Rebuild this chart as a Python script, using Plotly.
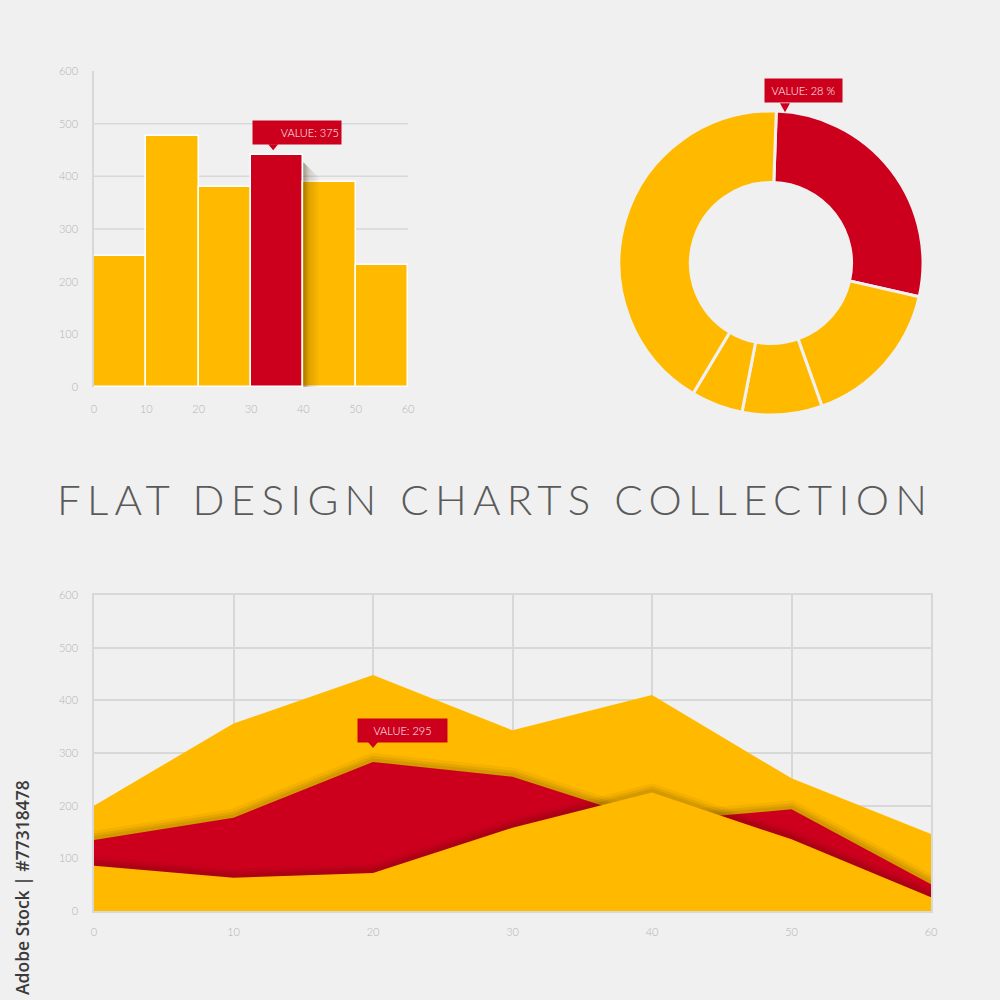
import plotly.graph_objects as go

# ---------------- data ----------------
# bar chart (histogram-like bins of width 10)
bar_left_edges = [0, 10, 20, 30, 40, 50]
bar_values = [248, 477, 379, 440, 390, 231]
bar_highlight_index = 3
bar_label = "VALUE: 375"

# donut chart (clockwise from 12 o'clock)
donut_values = [28, 16, 8.5, 5.5, 42]
donut_highlight_index = 0
donut_label = "VALUE: 28 %"

# area chart (three overlapping areas, back to front)
area_x = [0, 10, 20, 30, 40, 50, 60]
area_back = [200, 356, 448, 343, 410, 252, 146]
area_middle = [135, 177, 283, 255, 170, 193, 51]
area_front = [86, 63, 72, 158, 225, 136, 26]
area_label = "VALUE: 295"
area_label_index = 2

y_ticks = [0, 100, 200, 300, 400, 500, 600]
x_ticks = [0, 10, 20, 30, 40, 50, 60]
bar_grid_values = [100, 200, 300, 400, 500]

title_text = "FLAT DESIGN CHARTS COLLECTION"
credit_text = "Adobe Stock | #77318478"

# ---------------- style ----------------
BG = "#f0f0f0"
YELLOW = "#ffba00"
RED = "#cc001c"
GRID = "#d8d8d8"
TICK = "#b4b4b4"
FONT = "Lato"

fig = go.Figure()

# bar chart
bar_colors = [RED if i == bar_highlight_index else YELLOW for i in range(len(bar_values))]
bar_width = bar_left_edges[1] - bar_left_edges[0]
fig.add_trace(go.Bar(
    x=[e + bar_width / 2 for e in bar_left_edges], y=bar_values, width=bar_width,
    marker=dict(color=bar_colors, line=dict(color="#ffffff", width=1.5)),
    xaxis="x", yaxis="y", showlegend=False, hoverinfo="skip",
))
# soft shadow cast by the highlighted bar onto its right neighbour
sx0 = bar_left_edges[bar_highlight_index] + bar_width
sh = bar_values[bar_highlight_index]
fig.add_trace(go.Scatter(
    x=[sx0, sx0 + 3.2, sx0 + 3.2, sx0], y=[0, 0, sh * 0.9, sh * 0.97],
    mode="lines", fill="toself", line=dict(width=0),
    fillgradient=dict(type="horizontal",
                      colorscale=[[0, "rgba(60,40,0,0.45)"], [0.35, "rgba(60,40,0,0.16)"],
                                  [1, "rgba(60,40,0,0)"]]),
    xaxis="x", yaxis="y", showlegend=False, hoverinfo="skip",
))

# donut chart
donut_colors = [RED if i == donut_highlight_index else YELLOW for i in range(len(donut_values))]
fig.add_trace(go.Pie(
    values=donut_values, hole=0.53, sort=False, direction="clockwise", rotation=2,
    marker=dict(colors=donut_colors, line=dict(color=BG, width=3)),
    textinfo="none", hoverinfo="skip", showlegend=False,
    domain=dict(x=[0.619, 0.923], y=[0.585, 0.889]),
))

# area chart with soft shadows above the front layers
def shadow(ys):
    for w, a in [(18, 0.05), (12, 0.07), (7, 0.09)]:
        fig.add_trace(go.Scatter(
            x=area_x, y=ys, mode="lines", line=dict(width=w, color=f"rgba(40,20,0,{a})"),
            xaxis="x2", yaxis="y2", showlegend=False, hoverinfo="skip", cliponaxis=True,
        ))

def area(ys, col):
    fig.add_trace(go.Scatter(
        x=area_x, y=ys, mode="lines", fill="tozeroy", fillcolor=col,
        line=dict(width=0, color=col), xaxis="x2", yaxis="y2",
        showlegend=False, hoverinfo="skip",
    ))

area(area_back, YELLOW)
shadow(area_middle)
area(area_middle, RED)
shadow(area_front)
area(area_front, YELLOW)

tickfont = dict(family=FONT, size=11, color=TICK, weight=300)
common = dict(automargin=False, fixedrange=True, ticks="outside", tickcolor="rgba(0,0,0,0)",
              tickfont=tickfont, zeroline=False)

fig.update_layout(
    width=1000, height=1000, margin=dict(l=0, r=0, t=0, b=0, pad=0), autosize=False,
    paper_bgcolor=BG, plot_bgcolor="rgba(0,0,0,0)", bargap=0,
    xaxis=dict(domain=[0.094, 0.408], anchor="y", range=[0, 60], tickvals=x_ticks,
               showgrid=False, showline=False, ticklen=12, **common),
    yaxis=dict(domain=[0.613, 0.929], anchor="x", range=[0, 600], tickvals=y_ticks,
               showgrid=False, showline=True, linecolor=GRID, linewidth=1.5,
               ticklen=12, **common),
    xaxis2=dict(domain=[0.094, 0.931], anchor="y2", range=[0, 60], tickvals=x_ticks,
                showgrid=True, gridcolor=GRID, gridwidth=1.5,
                showline=True, mirror=True, linecolor=GRID, linewidth=1.5,
                ticklen=10, **common),
    yaxis2=dict(domain=[0.089, 0.405], anchor="x2", range=[0, 600], tickvals=y_ticks,
                showgrid=True, gridcolor=GRID, gridwidth=1.5,
                showline=True, mirror=True, linecolor=GRID, linewidth=1.5,
                ticklen=12, **common),
)

# bar chart gridlines (none at the top value)
for v in bar_grid_values:
    fig.add_shape(type="line", xref="x", yref="y", x0=x_ticks[0], x1=x_ticks[-1], y0=v, y1=v,
                  line=dict(color=GRID, width=1.5), layer="below")

labelfont = dict(family=FONT, size=11, color="#ffffff", weight=300)

def tooltip(text, xref, yref, x, y, box_dx, gap, width, align, ptr_dx=0):
    fig.add_annotation(text=text, xref=xref, yref=yref, x=x, y=y, showarrow=False,
                       xanchor="left", yanchor="bottom", xshift=box_dx, yshift=gap,
                       bgcolor=RED, font=labelfont, width=width, height=19,
                       borderpad=2, align=align)
    fig.add_shape(type="path", xref=xref, yref=yref, xsizemode="pixel", ysizemode="pixel",
                  xanchor=x, yanchor=y,
                  path=f"M {ptr_dx-5},{gap+1} L {ptr_dx+5},{gap+1} L {ptr_dx},{gap-5} Z",
                  fillcolor=RED, line=dict(width=0))

bx = bar_left_edges[bar_highlight_index] + bar_width / 2
tooltip(bar_label, "x", "y", bx, bar_values[bar_highlight_index], -25, 10, 84, "right", -4)
tooltip(area_label, "x2", "y2", area_x[area_label_index], area_middle[area_label_index],
        -16, 19, 85, "center", 0)

# donut tooltip (paper coords)
fig.add_annotation(text=donut_label, xref="paper", yref="paper", x=0.764, y=1 - 0.1033,
                   xanchor="left", yanchor="bottom", showarrow=False, bgcolor=RED,
                   font=labelfont, width=73, height=19, borderpad=2, align="center")
fig.add_shape(type="path", xref="paper", yref="paper",
              path="M 0.780,0.8967 L 0.790,0.8967 L 0.785,0.8877 Z",
              fillcolor=RED, line=dict(width=0))

# title
fig.add_annotation(text=f'<span style="letter-spacing:6.3px">{title_text}</span>',
                   xref="paper", yref="paper", x=0.4945, y=0.501, showarrow=False,
                   xanchor="center", yanchor="middle",
                   font=dict(family=FONT, size=42, color="#5a5a5a", weight=300))

# vertical credit
fig.add_annotation(text=credit_text, xref="paper", yref="paper", x=0.022, y=0.112,
                   showarrow=False, textangle=-90, xanchor="center", yanchor="middle",
                   font=dict(family="Open Sans", size=17.5, color="#3a3a3a", weight=600))

fig.write_html("out.html", config={"displayModeBar": False, "responsive": False},
               post_script="document.body.style.margin='0';")
